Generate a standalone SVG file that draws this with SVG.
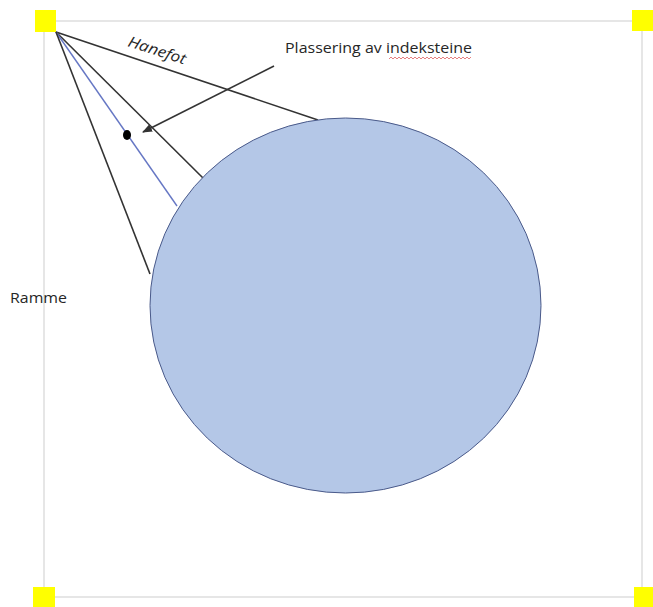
<svg xmlns="http://www.w3.org/2000/svg" width="653" height="607" viewBox="0 0 653 607">
<style>
.t{font-family:"Open Sans","Liberation Sans",sans-serif;font-size:15px;fill:#262626}
.ln{stroke:#333;stroke-width:1.6;fill:none}
.h{fill:#ffff00}
</style>
<defs>
<marker id="ah" markerWidth="10" markerHeight="8" refX="9" refY="4" orient="auto" markerUnits="userSpaceOnUse">
<path d="M0,0 L10,4 L0,8 z" fill="#333"/>
</marker>
</defs>
<rect width="653" height="607" fill="#fff"/>
<g id="ramme">
<rect x="44" y="21" width="598" height="576" fill="none" stroke="#e6e6e6" stroke-width="2"/>
<rect class="h" x="35" y="10" width="21" height="22"/>
<rect class="h" x="632" y="10" width="21" height="21"/>
<rect class="h" x="33" y="587" width="22" height="20"/>
<rect class="h" x="634" y="587" width="19" height="20"/>
</g>
<g id="connectors">
<line class="ln" x1="56" y1="32" x2="318" y2="120"/>
<line class="ln" x1="56" y1="32" x2="204" y2="179"/>
<line x1="56" y1="32" x2="177" y2="206" stroke="#6677c4" stroke-width="1.4"/>
<line class="ln" x1="56" y1="32" x2="150" y2="274"/>
<line class="ln" x1="274" y1="66" x2="143" y2="132" marker-end="url(#ah)"/>
</g>
<g id="sirkel">
<ellipse cx="345.5" cy="305.5" rx="195.5" ry="187.5" fill="#b4c7e7" stroke="#4a5a8a" stroke-width="1"/>
</g>
<g id="indekstein">
<ellipse cx="127" cy="135" rx="4" ry="5" fill="#000"/>
</g>
<g id="labels">
<text class="t" x="127" y="46" font-style="italic" textLength="60" lengthAdjust="spacingAndGlyphs" transform="rotate(18 127 46)">Hanefot</text>
<text class="t" x="285" y="53" textLength="187" lengthAdjust="spacingAndGlyphs">Plassering av indeksteine</text>
<path d="M389,59 l2,-2 l2,2 l2,-2 l2,2 l2,-2 l2,2 l2,-2 l2,2 l2,-2 l2,2 l2,-2 l2,2 l2,-2 l2,2 l2,-2 l2,2 l2,-2 l2,2 l2,-2 l2,2 l2,-2 l2,2 l2,-2 l2,2 l2,-2 l2,2 l2,-2 l2,2 l2,-2 l2,2 l2,-2 l2,2 l2,-2 l2,2 l2,-2 l2,2 l2,-2 l2,2 l2,-2 l2,2 l2,-2" fill="none" stroke="#e06060" stroke-width="0.8"/>
<text class="t" x="10" y="303" textLength="57" lengthAdjust="spacingAndGlyphs">Ramme</text>
</g>
</svg>
